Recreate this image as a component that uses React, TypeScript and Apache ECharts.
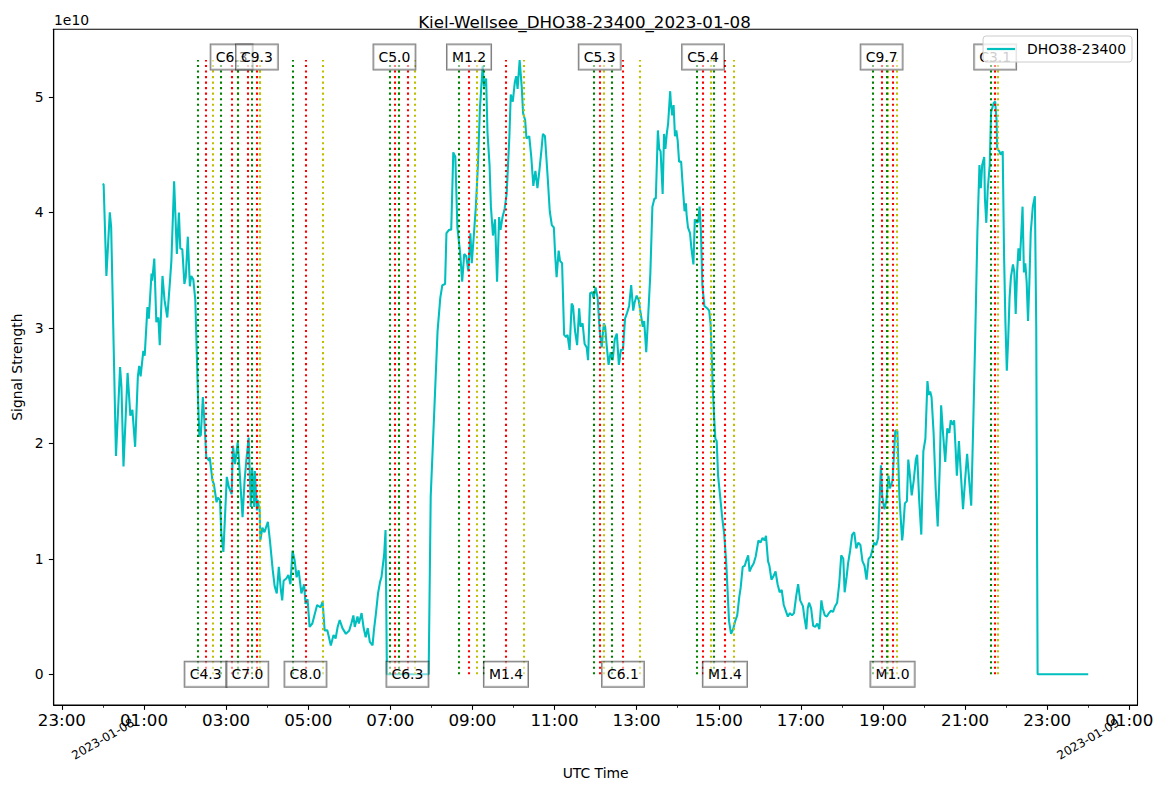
import React, { useEffect, useRef } from "react";
import * as echarts from "echarts";

const TITLE = "Kiel-Wellsee_DHO38-23400_2023-01-08";
const SERIES_NAME = "DHO38-23400";
const OFFSET_TEXT = "1e10";
const X_NAME = "UTC Time";
const Y_NAME = "Signal Strength";
const DAY_LABELS = ["2023-01-08", "2023-01-09"];

// minutes after 2023-01-08 00:00 UTC
const sampleMinutes = [
  0, 1, 5, 10, 12, 19, 25, 27, 30, 36, 40, 43, 47, 51, 53, 55, 59, 61, 65, 67, 71, 72, 75, 78, 81, 83, 87, 90, 94, 98,
  100, 104, 108, 111, 113, 116, 119, 121, 124, 127, 129, 132, 135, 139, 141, 143, 146, 148, 151, 155, 156, 160, 162,
  166, 168, 171, 173, 176, 181, 184, 188, 190, 193, 197, 204, 207, 210, 213, 216, 218, 221, 222, 225, 226, 229, 230,
  233, 236, 241, 244, 248, 251, 254, 257, 260, 262, 264, 268, 271, 274, 277, 280, 283, 286, 290, 294, 296, 299, 302,
  306, 309, 313, 318, 321, 324, 328, 333, 337, 340, 343, 346, 350, 355, 360, 363, 366, 368, 372, 374, 378, 381, 384,
  387, 390, 394, 396, 399, 402, 405, 407, 411, 413, 415, 476, 479, 484, 489, 493, 496, 500, 502, 506, 509, 512, 515,
  518, 522, 525, 528, 531, 534, 537, 539, 542, 545, 548, 551, 555, 557, 560, 562, 565, 567, 570, 573, 576, 579, 581,
  584, 587, 590, 594, 596, 599, 602, 604, 606, 609, 612, 614, 617, 619, 623, 626, 629, 632, 635, 638, 641, 643, 646,
  650, 653, 656, 659, 661, 663, 666, 668, 671, 674, 677, 679, 682, 685, 687, 690, 693, 696, 698, 701, 704, 707, 709,
  712, 715, 717, 720, 723, 726, 729, 732, 734, 736, 739, 742, 745, 748, 751, 754, 757, 760, 763, 766, 769, 772, 775,
  777, 780, 783, 786, 789, 791, 794, 797, 800, 803, 806, 808, 811, 813, 815, 818, 820, 822, 824, 826, 829, 830, 832,
  834, 836, 838, 840, 842, 845, 847, 850, 852, 853, 855, 858, 860, 863, 865, 868, 870, 872, 874, 876, 879, 883, 886,
  888, 890, 891, 893, 895, 897, 899, 902, 905, 908, 911, 913, 915, 918, 921, 924, 927, 930, 932, 935, 938, 940, 943,
  945, 948, 951, 954, 958, 961, 964, 967, 969, 972, 974, 977, 980, 983, 986, 989, 992, 995, 998, 1001, 1004, 1007,
  1010, 1013, 1016, 1019, 1023, 1025, 1028, 1030, 1032, 1035, 1038, 1041, 1044, 1047, 1050, 1052, 1055, 1058, 1061,
  1064, 1067, 1070, 1073, 1076, 1079, 1082, 1084, 1087, 1089, 1092, 1095, 1098, 1101, 1104, 1107, 1110, 1113, 1116,
  1119, 1122, 1125, 1127, 1130, 1133, 1135, 1137, 1139, 1142, 1145, 1148, 1150, 1152, 1154, 1158, 1161, 1164, 1168,
  1169, 1172, 1175, 1177, 1179, 1182, 1185, 1188, 1190, 1193, 1196, 1199, 1202, 1205, 1207, 1209, 1211, 1214, 1217,
  1220, 1223, 1225, 1228, 1231, 1234, 1237, 1239, 1242, 1244, 1246, 1248, 1251, 1254, 1257, 1260, 1263, 1266, 1269,
  1272, 1275, 1278, 1281, 1283, 1285, 1288, 1289, 1291, 1293, 1296, 1298, 1300, 1302, 1304, 1306, 1307, 1310, 1312,
  1315, 1317, 1319, 1321, 1323, 1325, 1327, 1330, 1332, 1334, 1336, 1338, 1340, 1342, 1344, 1346, 1348, 1350, 1352,
  1354, 1356, 1359, 1362, 1364, 1366, 1440,
];

// signal strength, in units of 1e10
const signalE10 = [
  4.25, 4.24, 3.45, 4.0, 3.87, 1.89, 2.66, 2.49, 1.8, 2.61, 2.24, 2.29, 1.97, 2.58, 2.67, 2.58, 2.8, 2.76, 3.18, 3.08,
  3.47, 3.41, 3.6, 3.05, 3.09, 2.85, 3.45, 3.24, 3.09, 3.41, 3.58, 4.27, 3.64, 4.0, 3.69, 3.68, 3.38, 3.44, 3.79, 3.36,
  3.45, 3.42, 3.24, 2.37, 2.06, 2.07, 2.4, 2.22, 1.88, 1.85, 1.88, 1.68, 1.65, 1.49, 1.53, 1.51, 1.22, 1.06, 1.71,
  1.62, 1.56, 1.98, 1.82, 2.01, 1.36, 1.68, 1.88, 2.05, 1.45, 1.79, 1.45, 1.76, 1.42, 1.51, 1.42, 1.16, 1.27, 1.23,
  1.32, 1.16, 0.91, 0.76, 0.7, 0.93, 0.73, 0.64, 0.81, 0.83, 0.86, 0.78, 1.07, 0.99, 0.84, 0.9, 0.7, 0.78, 0.61, 0.65,
  0.41, 0.44, 0.51, 0.6, 0.58, 0.63, 0.38, 0.38, 0.25, 0.34, 0.31, 0.41, 0.47, 0.4, 0.35, 0.38, 0.44, 0.51, 0.41, 0.5,
  0.44, 0.53, 0.4, 0.32, 0.4, 0.28, 0.25, 0.38, 0.53, 0.7, 0.8, 0.84, 1.04, 1.25, 0, 0, 1.54, 2.25, 2.97, 3.26, 3.37,
  3.38, 3.82, 3.85, 3.85, 4.52, 4.48, 3.87, 3.65, 3.4, 3.64, 3.62, 3.49, 3.82, 3.56, 3.8, 4.05, 4.41, 4.91, 5.27, 5.09,
  5.16, 4.69, 4.41, 4.05, 3.8, 3.94, 3.4, 3.96, 3.85, 3.96, 4.03, 4.16, 4.66, 5.02, 4.96, 5.13, 5.18, 5.07, 5.32, 5.09,
  4.86, 4.8, 4.64, 4.66, 4.48, 4.23, 4.36, 4.21, 4.37, 4.55, 4.68, 4.66, 4.3, 4.01, 3.89, 3.87, 3.62, 3.44, 3.67, 3.58,
  3.56, 2.94, 2.92, 2.94, 2.81, 3.21, 3.19, 2.97, 2.85, 3.17, 3.01, 3.04, 2.86, 2.83, 2.72, 3.3, 3.31, 3.26, 3.35,
  3.26, 2.97, 2.83, 3.04, 3.01, 2.86, 2.68, 2.79, 2.72, 2.9, 2.95, 2.68, 2.81, 2.81, 3.08, 3.13, 3.19, 3.37, 3.15,
  3.22, 3.28, 3.24, 3.12, 3.01, 3.06, 2.79, 3.12, 3.47, 4.05, 4.12, 4.12, 4.71, 4.55, 4.53, 4.16, 4.68, 4.55, 4.68,
  4.77, 5.05, 4.95, 4.84, 4.93, 4.66, 4.71, 4.62, 4.44, 4.44, 4.26, 4.01, 4.08, 3.98, 3.87, 3.82, 3.69, 3.55, 3.94,
  3.91, 3.92, 4.05, 3.83, 3.37, 3.19, 3.17, 3.15, 3.04, 2.72, 2.51, 2.25, 2.04, 2.02, 1.72, 1.54, 1.36, 1.21, 0.96,
  0.71, 0.46, 0.35, 0.39, 0.46, 0.51, 0.67, 0.75, 0.93, 0.94, 0.98, 1.03, 0.89, 0.93, 0.96, 1.02, 1.16, 1.14, 1.18,
  1.16, 1.2, 0.98, 0.94, 0.82, 0.85, 0.89, 0.78, 0.71, 0.73, 0.6, 0.55, 0.5, 0.53, 0.51, 0.53, 0.67, 0.78, 0.64, 0.59,
  0.5, 0.39, 0.57, 0.62, 0.57, 0.42, 0.41, 0.44, 0.39, 0.64, 0.57, 0.51, 0.5, 0.53, 0.55, 0.54, 0.59, 0.62, 0.78, 1.03,
  1.0, 0.71, 0.85, 0.96, 1.07, 1.21, 1.23, 1.09, 1.14, 1.12, 0.98, 0.94, 0.82, 1.0, 1.02, 1.09, 1.14, 1.12, 1.18, 1.5,
  1.81, 1.54, 1.43, 1.5, 1.72, 1.61, 1.64, 1.68, 2.11, 2.11, 1.54, 1.16, 1.21, 1.48, 1.5, 1.86, 1.75, 1.55, 1.68, 1.86,
  1.9, 1.5, 1.21, 1.93, 2.04, 2.54, 2.42, 2.45, 2.4, 2.09, 1.61, 1.28, 1.79, 2.33, 2.07, 1.84, 2.13, 2.09, 2.2, 2.16,
  2.2, 1.97, 1.72, 2.02, 1.72, 1.43, 1.68, 1.91, 1.68, 1.46, 2.18, 2.97, 3.83, 4.41, 4.21, 4.41, 4.48, 4.12, 3.91,
  4.19, 4.41, 4.87, 4.91, 4.95, 4.96, 4.8, 4.55, 4.53, 4.5, 4.53, 3.62, 3.04, 2.63, 2.9, 3.26, 3.44, 3.55, 3.48, 3.12,
  3.48, 3.69, 3.58, 3.8, 4.05, 3.48, 3.56, 3.4, 3.06, 3.4, 3.83, 4.05, 4.14, 3.01, 0, 0,
];

// flares (minutes after 2023-01-08 00:00 UTC)
const flareClass = ["C4.3", "C6.3", "C7.0", "C9.3", "C8.0", "C5.0", "C6.3", "M1.2", "M1.4", "C5.3", "C6.1", "C5.4", "M1.4", "C9.7", "M1.0", "C3.1"];
const flareStart = [139, 172, 197, 217, 277, 419, 432, 520, 557, 717, 744, 868, 893, 1125, 1145, 1298];
const flarePeak = [150, 188, 211, 225, 296, 426, 445, 535, 589, 726, 760, 877, 909, 1138, 1154, 1304];
const flareEnd = [161, 197, 229, 229, 321, 432, 455, 546, 615, 732, 785, 889, 922, 1147, 1160, 1308];

// axis ticks
const majorTickMinutes = [-60, 60, 180, 300, 420, 540, 660, 780, 900, 1020, 1140, 1260, 1380, 1500];
const minorTickMinutes = [0, 120, 240, 360, 480, 600, 720, 840, 960, 1080, 1200, 1320, 1440];
const dayLabelMinutes = [0, 1440];
const yTickValues = [0, 1, 2, 3, 4, 5];

const FONT = "DejaVu Sans";
const LINE_COLOR = "#00bfbf";
const START_COLOR = "#008000";
const PEAK_COLOR = "#ff0000";
const END_COLOR = "#bfbf00";

function fmtMinutes(m: number): string {
  const mm = ((Math.round(m) % 1440) + 1440) % 1440;
  const h = Math.floor(mm / 60);
  const mi = mm % 60;
  return `${String(h).padStart(2, "0")}:${String(mi).padStart(2, "0")}`;
}

export default function App() {
  const ref = useRef<HTMLDivElement>(null);

  useEffect(() => {
    if (!ref.current) return;
    const chart = echarts.init(ref.current, undefined, { renderer: "svg" });

    const vmax = Math.max(...signalE10);
    const xSpan = 1440;
    const xMin = -0.05 * xSpan;
    const xMax = xSpan * 1.05;
    const yMin = -0.05 * vmax;
    const yMax = vmax * 1.05;

    const lineData = sampleMinutes.map((m, i) => [m, signalE10[i]]);

    const vlines: any[] = [];
    flarePeak.forEach((_, i) => {
      const trio: [number, string][] = [
        [flareStart[i], START_COLOR],
        [flarePeak[i], PEAK_COLOR],
        [flareEnd[i], END_COLOR],
      ];
      trio.forEach(([t, c]) => {
        vlines.push([
          { coord: [t, 0], lineStyle: { color: c, width: 2.08, type: [2.08, 3.44], cap: "butt" } },
          { coord: [t, vmax] },
        ]);
      });
    });

    const labelData = flareClass.map((c, i) => ({
      name: c,
      value: [flarePeak[i], i % 2 === 0 ? 0 : vmax],
      label: { offset: i % 2 === 0 ? [0, 0] : [0, -3] },
    }));

    const tickStyle = { color: "#000", width: 1.1 };

    chart.setOption({
      animation: false,
      textStyle: { fontFamily: FONT },
      title: {
        text: TITLE,
        left: "center",
        top: 13,
        padding: 0,
        textStyle: { fontFamily: FONT, fontSize: 16.7, fontWeight: "normal", color: "#000" },
      },
      legend: {
        data: [{ name: SERIES_NAME, icon: "rect" }],
        right: 37,
        top: 36,
        z: 20,
        itemWidth: 28,
        itemHeight: 2.2,
        padding: [6, 6, 6, 4],
        backgroundColor: "rgba(255,255,255,0.8)",
        borderColor: "#cccccc",
        borderWidth: 1,
        borderRadius: 3,
        itemStyle: { color: LINE_COLOR, borderWidth: 0 },
        textStyle: { fontFamily: FONT, fontSize: 13.9, color: "#000", padding: [0, 0, 0, 7], lineHeight: 14 },
      },
      grid: {
        left: 53.7,
        right: 31.5,
        top: 29.3,
        bottom: 87,
        show: true,
        borderColor: "#000",
        borderWidth: 1.1,
        backgroundColor: "transparent",
      },
      graphic: [
        {
          type: "text",
          left: 54,
          top: 13,
          style: { text: OFFSET_TEXT, fontFamily: FONT, fontSize: 13.9, fill: "#000" },
        },
      ],
      xAxis: [
        {
          type: "value",
          min: xMin,
          max: xMax,
          position: "bottom",
          name: X_NAME,
          nameLocation: "middle",
          nameGap: 61,
          nameTextStyle: { fontFamily: FONT, fontSize: 13.9, color: "#000" },
          axisLine: { show: true, onZero: false, lineStyle: { color: "#000", width: 1.1 } },
          axisTick: { show: true, length: 4.86, lineStyle: tickStyle, customValues: majorTickMinutes },
          axisLabel: {
            show: true,
            customValues: majorTickMinutes,
            formatter: (v: number) => fmtMinutes(v),
            fontFamily: FONT,
            fontSize: 16.7,
            color: "#000",
            margin: 6,
          },
          splitLine: { show: false },
        },
        {
          type: "value",
          min: xMin,
          max: xMax,
          position: "bottom",
          axisLine: { show: false, onZero: false },
          axisTick: { show: true, length: 2.8, lineStyle: { color: "#000", width: 0.8 }, customValues: minorTickMinutes },
          axisLabel: {
            show: true,
            customValues: dayLabelMinutes,
            formatter: (v: number) => DAY_LABELS[Math.round(v / 1440)] ?? "",
            rotate: 30,
            align: "center",
            verticalAlign: "middle",
            margin: 34,
            fontFamily: FONT,
            fontSize: 12,
            color: "#000",
          },
          splitLine: { show: false },
        },
      ],
      yAxis: {
        type: "value",
        min: yMin,
        max: yMax,
        name: Y_NAME,
        nameLocation: "middle",
        nameGap: 23,
        nameRotate: 90,
        nameTextStyle: { fontFamily: FONT, fontSize: 13.9, color: "#000" },
        axisLine: { show: true, onZero: false, lineStyle: { color: "#000", width: 1.1 } },
        axisTick: { show: true, length: 4.86, lineStyle: tickStyle, customValues: yTickValues },
        axisLabel: {
          show: true,
          customValues: yTickValues,
          formatter: (v: number) => String(Math.round(v)),
          fontFamily: FONT,
          fontSize: 13.9,
          color: "#000",
          margin: 10,
        },
        splitLine: { show: false },
      },
      series: [
        {
          name: SERIES_NAME,
          type: "line",
          data: lineData,
          symbol: "none",
          showSymbol: false,
          z: 2,
          lineStyle: { color: LINE_COLOR, width: 2.08 },
          itemStyle: { color: LINE_COLOR },
          markLine: {
            silent: true,
            symbol: ["none", "none"],
            label: { show: false },
            emphasis: { disabled: true },
            animation: false,
            data: vlines,
          },
        },
        {
          name: "flares",
          type: "scatter",
          data: labelData,
          symbolSize: 1,
          silent: true,
          z: 5,
          itemStyle: { color: "rgba(0,0,0,0)" },
          label: {
            show: true,
            position: "inside",
            formatter: (p: any) => p.name,
            fontFamily: FONT,
            fontSize: 13.9,
            color: "#000",
            opacity: 1,
            textBorderWidth: 0,
            textShadowBlur: 0,
            lineHeight: 17,
            backgroundColor: "rgba(255,255,255,0.5)",
            borderColor: "rgba(0,0,0,0.5)",
            borderWidth: 1,
            padding: [4, 5, 4, 5],
          },
        },
      ],
    });

    return () => {
      chart.dispose();
    };
  }, []);

  return (
    <div
      ref={ref}
      style={{ position: "fixed", left: 0, top: 0, width: 1169, height: 792, background: "#fff" }}
    />
  );
}
